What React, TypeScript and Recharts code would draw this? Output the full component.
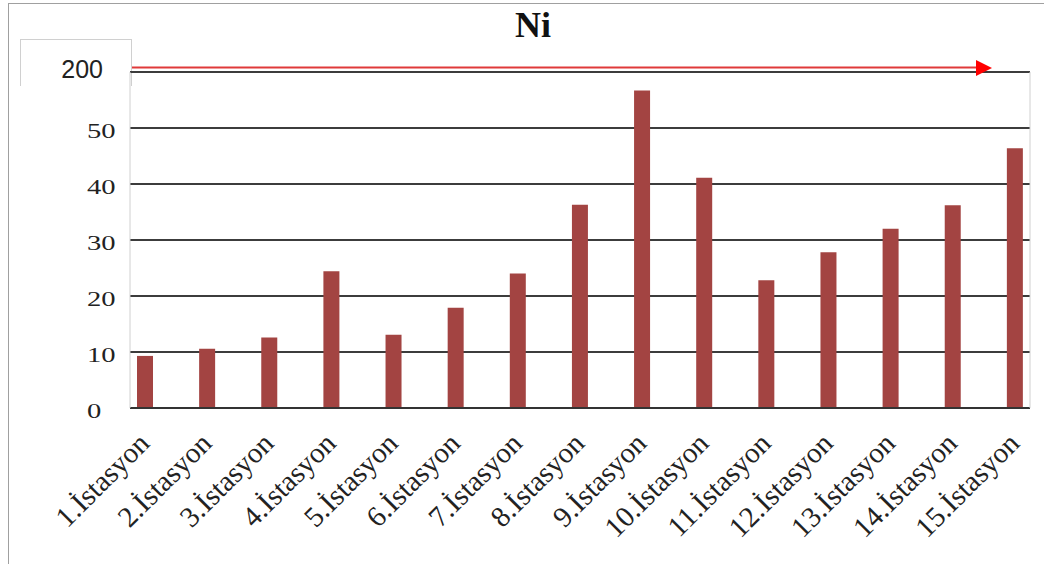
import { BarChart, Bar, XAxis, YAxis, CartesianGrid } from 'recharts'

const stations = [
  '1.İstasyon', '2.İstasyon', '3.İstasyon', '4.İstasyon', '5.İstasyon',
  '6.İstasyon', '7.İstasyon', '8.İstasyon', '9.İstasyon', '10.İstasyon',
  '11.İstasyon', '12.İstasyon', '13.İstasyon', '14.İstasyon', '15.İstasyon',
]
const niValues = [9.3, 10.6, 12.6, 24.4, 13.1, 17.9, 24.0, 36.3, 56.7, 41.1, 22.8, 27.8, 32.0, 36.2, 46.4]
const yTicks = [0, 10, 20, 30, 40, 50, 60]
const yTickLabels = ['0', '10', '20', '30', '40', '50', '200']

const data = stations.map((name, i) => ({ name, ni: niValues[i] }))

const serif = '"Liberation Serif", "Times New Roman", serif'

// top tick is the broken-axis "200" label, drawn in a sans face
const YTick = (props: any) => {
  const { y, payload } = props
  const idx = yTicks.indexOf(payload.value)
  const label = yTickLabels[idx]
  if (idx === yTicks.length - 1) {
    return (
      <text x={103} y={y + 6} textAnchor="end" fontSize={25} fill="#222"
        fontFamily='"Liberation Sans", Arial, sans-serif'>
        {label}
      </text>
    )
  }
  return (
    <text x={87} y={y + 10} fontSize={22} fill="#222" fontFamily={serif}
      transform={`translate(87 0) scale(1.3 1) translate(-87 0)`}>
      {label}
    </text>
  )
}

const XTick = (props: any) => {
  const { x, y, payload } = props
  return (
    <g transform={`translate(${x + 6},${y + 29})`}>
      <text textAnchor="end" transform="rotate(-45)" fontSize={29} fill="#222" fontFamily={serif}>
        {payload.value}
      </text>
    </g>
  )
}

export default function App() {
  return (
    <div style={{ position: 'absolute', left: 0, top: 0, width: 1044, height: 564, background: '#fff', overflow: 'hidden' }}>
      {/* outer frame */}
      <div style={{ position: 'absolute', left: 8, top: 3, width: 1100, height: 600, borderLeft: '1px solid #a0a0a0', borderTop: '1px solid #a0a0a0' }} />
      <div style={{ position: 'absolute', left: 0, top: 5, width: 1066, textAlign: 'center', fontFamily: serif, fontWeight: 'bold', fontSize: 36, lineHeight: '40px', color: '#111' }}>
        Ni
      </div>
      {/* tab box around 200 */}
      <div style={{ position: 'absolute', left: 20, top: 39, width: 110, height: 46, borderTop: '1px solid #d0d0d0', borderLeft: '1px solid #d0d0d0', borderRight: '1px solid #d0d0d0' }} />
      <div style={{ position: 'absolute', left: 0, top: 0 }}>
        <BarChart width={1044} height={564} data={data} margin={{ top: 72, right: 0, bottom: 0, left: 0 }}>
          <CartesianGrid horizontal vertical={false} stroke="#3c3c3c" strokeWidth={2} />
          <XAxis dataKey="name" height={156} interval={0} padding={{ left: -16, right: -16 }}
            axisLine={{ stroke: '#333', strokeWidth: 2 }} tickLine={false} tick={<XTick />} />
          <YAxis domain={[0, 60]} ticks={yTicks} width={130} axisLine={{ stroke: '#d0d0d0' }}
            tickLine={false} tick={<YTick />} />
          <YAxis yAxisId="r" orientation="right" domain={[0, 60]} ticks={yTicks} width={14}
            axisLine={{ stroke: '#d0d0d0' }} tickLine={false} tick={false} />
          <Bar dataKey="ni" fill="#A34442" barSize={16} isAnimationActive={false} />
        </BarChart>
      </div>
      {/* red arrow over the break */}
      <svg style={{ position: 'absolute', left: 0, top: 0 }} width={1044} height={100}>
        <line x1={132} y1={67.5} x2={980} y2={67.5} stroke="#e03a3a" strokeWidth={2} />
        <polygon points="976,60 992,68 976,76" fill="#ff0000" />
      </svg>
    </div>
  )
}
